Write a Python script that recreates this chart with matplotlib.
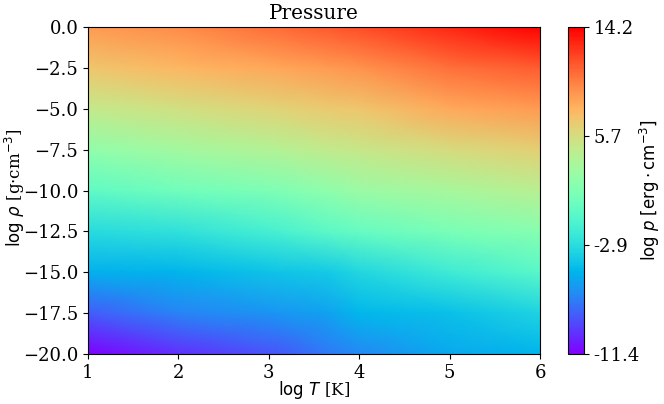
#!/usr/bin/env python

import matplotlib
matplotlib.use("agg")
import matplotlib.pyplot as plt
import numpy as np

# grid nodes
log_T = [1.0, 2.0, 3.1, 3.65, 4.0, 5.0, 6.0]
log_rho = [0.0, -2.5, -5.0, -7.5, -10.0, -12.5, -15.0, -17.5, -20.0]

# log pressure, one row per log_rho value
p_rho_0 = [8.8, 9.4, 10.6, 11.2, 11.6, 12.9, 14.2]
p_rho_m2_5 = [6.9, 7.6, 8.3, 8.8, 9.1, 10.5, 11.1]
p_rho_m5 = [4.8, 5.5, 6.3, 6.7, 7.0, 8.2, 8.8]
p_rho_m7_5 = [2.3, 3.1, 4.0, 4.6, 5.0, 5.8, 6.5]
p_rho_m10 = [-0.2, 0.6, 1.3, 2.1, 2.7, 3.4, 4.2]
p_rho_m12_5 = [-3.0, -2.6, -1.4, -0.4, 0.1, 1.1, 1.7]
p_rho_m15 = [-5.2, -5.0, -4.3, -4.0, -3.2, -1.8, -0.6]
p_rho_m17_5 = [-8.3, -7.0, -6.3, -5.8, -4.9, -4.5, -3.5]
p_rho_m20 = [-11.4, -9.8, -8.6, -7.4, -6.8, -5.5, -5.0]

plt.rcParams["font.family"] = "serif"
plt.rcParams["font.size"] = 12

P = np.array([p_rho_0, p_rho_m2_5, p_rho_m5, p_rho_m7_5, p_rho_m10,
              p_rho_m12_5, p_rho_m15, p_rho_m17_5, p_rho_m20])
vmin, vmax = P.min(), P.max()

fig = plt.figure(figsize=(6.64, 4.04), dpi=100)
ax = fig.add_axes([88 / 664, 50 / 404, 452 / 664, 327 / 404])
cax = fig.add_axes([568 / 664, 50 / 404, 16 / 664, 327 / 404])

mesh = ax.pcolormesh(log_T, log_rho, P, shading="gouraud", cmap="rainbow",
                     vmin=vmin, vmax=vmax)
ax.set_xlim(1, 6)
ax.set_ylim(-20, 0)
ax.tick_params(labelsize=13)
ax.set_xlabel(r"$\log\,T$ [K]")
ax.set_ylabel(r"$\log\,\rho$ [g$\cdot$cm$^{-3}$]")
ax.xaxis.set_label_coords(0.5, -0.075)
ax.yaxis.set_label_coords(-0.134, 0.51)
ax.set_title("Pressure", fontsize=14.4)

cb = fig.colorbar(mesh, cax=cax, ticks=np.linspace(vmin, vmax, 4), format="%.1f")
cb.ax.tick_params(labelsize=13)
cb.set_label(r"$\log\,p\;[\mathrm{erg\cdot cm^{-3}}]$")
cb.ax.yaxis.set_label_coords(4.4, 0.5)

fig.savefig("out.png")
